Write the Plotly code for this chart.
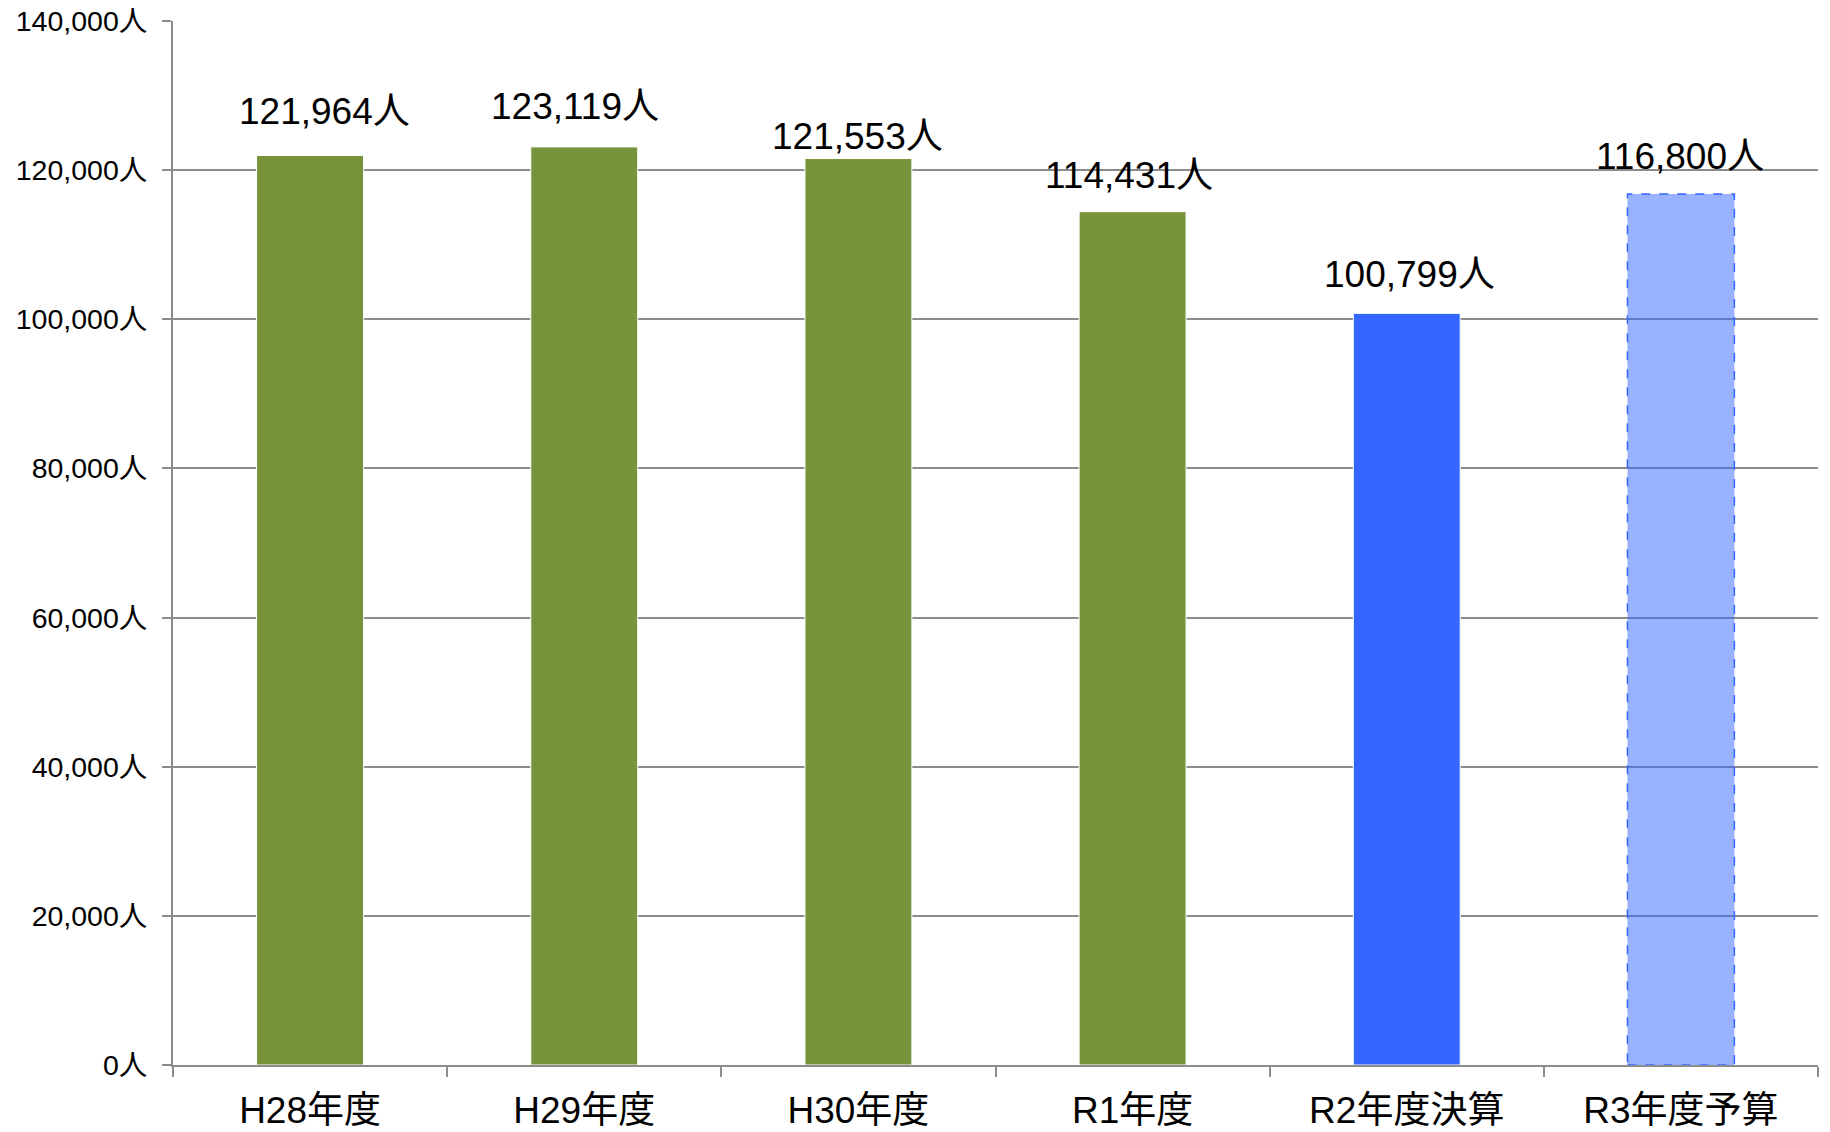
import plotly.graph_objects as go

categories = ["H28年度", "H29年度", "H30年度", "R1年度", "R2年度決算", "R3年度予算"]
values = [121964, 123119, 121553, 114431, 100799, 116800]
tick_vals = [0, 20000, 40000, 60000, 80000, 100000, 120000, 140000]
tick_text = [f"{v:,}人" for v in tick_vals]

fill_colors = ["#77933C", "#77933C", "#77933C", "#77933C", "#3366FF", "rgba(51,102,255,0.5)"]
dashed_border = [False, False, False, False, False, True]
label_xshift = [14, -9, -1, -4, 3, -1]
label_yshift = [44, 40, 22, 36, 39, 38]
BAR_W = 0.39

fig = go.Figure()
for i, (c, v) in enumerate(zip(categories, values)):
    fig.add_trace(go.Bar(
        x=[c], y=[v],
        marker=dict(color=fill_colors[i],
                    line=dict(color="#FFFFFF", width=0 if dashed_border[i] else 1)),
        width=BAR_W, showlegend=False, hoverinfo="skip",
    ))
    if dashed_border[i]:
        fig.add_shape(type="rect", xref="x", yref="y",
                      x0=i - BAR_W / 2, x1=i + BAR_W / 2, y0=0, y1=v,
                      line=dict(color="#3366FF", width=1.5, dash="dash"),
                      fillcolor="rgba(0,0,0,0)", layer="above")
    fig.add_annotation(x=c, y=v, text=f"{v:,}人", showarrow=False,
                       xshift=label_xshift[i], yshift=label_yshift[i],
                       font=dict(size=37, color="#000000"))

fig.update_layout(
    width=1830, height=1132,
    margin=dict(l=165, r=20, t=13, b=75),
    plot_bgcolor="white", paper_bgcolor="white",
    font=dict(family="Liberation Sans, Arial, Noto Sans CJK JP", color="#000000"),
    barmode="overlay",
)
fig.update_yaxes(
    range=[0, 140000], tickvals=tick_vals, ticktext=tick_text,
    showgrid=True, gridcolor="#8C8C8C", gridwidth=1.5,
    showline=True, linecolor="#8C8C8C", linewidth=2,
    ticks="outside", ticklen=9, tickcolor="#8C8C8C", tickwidth=2,
    ticklabelstandoff=9, automargin=False, ticklabeloverflow="allow",
    tickfont=dict(size=28.5, color="#000000"), zeroline=False,
)
fig.update_xaxes(
    categoryorder="array", categoryarray=categories,
    showline=True, linecolor="#8C8C8C", linewidth=2,
    ticks="outside", ticklen=10, tickcolor="#8C8C8C", tickwidth=2,
    tickson="boundaries", ticklabelstandoff=12, automargin=False,
    ticklabeloverflow="allow",
    tickfont=dict(size=37, color="#000000"),
)
fig.write_html("out.html")
